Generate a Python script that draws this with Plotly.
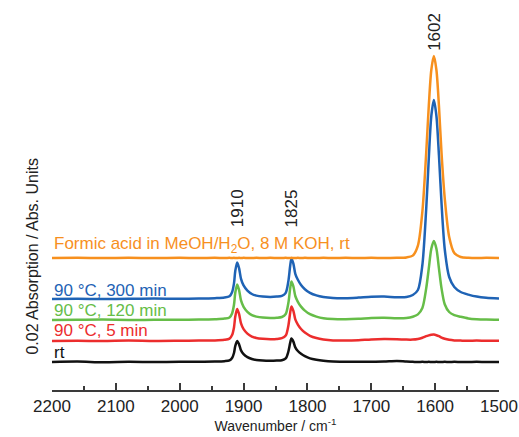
import plotly.graph_objects as go

# Wavenumber grid (cm-1)
wavenumber = [2200, 2160, 2120, 2080, 2040, 2000, 1970, 1945, 1930, 1922,
              1918, 1915, 1913, 1910, 1907, 1904, 1900, 1894, 1887, 1880,
              1870, 1858, 1848, 1840, 1834, 1830, 1827, 1825, 1822, 1819,
              1815, 1810, 1804, 1796, 1786, 1775, 1760, 1740, 1720, 1700,
              1680, 1660, 1645, 1635, 1627, 1620, 1614, 1610, 1606, 1602,
              1598, 1594, 1590, 1585, 1578, 1570, 1560, 1548, 1535, 1520, 1500]

# Absorbance above each trace's own baseline
rt_abs = [0.0000, 0.0002, -0.0001, 0.0001, 0.0000, 0.0001, 0.0001, 0.0002, 0.0004, 0.0008,
          0.0020, 0.0045, 0.0080, 0.0105, 0.0088, 0.0058, 0.0039, 0.0024, 0.0015, 0.0010,
          0.0007, 0.0006, 0.0007, 0.0009, 0.0018, 0.0050, 0.0096, 0.0117, 0.0102, 0.0073,
          0.0055, 0.0041, 0.0029, 0.0018, 0.0011, 0.0006, 0.0002, 0.0001, 0.0001, 0.0001,
          0.0002, 0.0005, 0.0002, 0.0001, 0.0000, 0.0001, 0.0000, 0.0001, 0.0000, 0.0000,
          0.0001, 0.0000, 0.0000, 0.0001, 0.0000, 0.0001, 0.0000, 0.0000, 0.0001, 0.0000, 0.0000]

min5_abs = [0.0000, 0.0001, 0.0000, 0.0002, 0.0000, 0.0001, 0.0002, 0.0003, 0.0006, 0.0012,
            0.0030, 0.0068, 0.0122, 0.0160, 0.0134, 0.0088, 0.0059, 0.0037, 0.0022, 0.0015,
            0.0011, 0.0009, 0.0010, 0.0014, 0.0027, 0.0074, 0.0142, 0.0173, 0.0151, 0.0108,
            0.0082, 0.0060, 0.0042, 0.0026, 0.0015, 0.0008, 0.0003, 0.0002, 0.0004, 0.0008,
            0.0010, 0.0009, 0.0007, 0.0007, 0.0010, 0.0016, 0.0024, 0.0028, 0.0031, 0.0032,
            0.0029, 0.0024, 0.0017, 0.0011, 0.0006, 0.0003, 0.0002, 0.0001, 0.0002, 0.0001, 0.0001]

min120_abs = [0.0000, 0.0001, 0.0002, 0.0000, 0.0001, 0.0001, 0.0002, 0.0004, 0.0007, 0.0013,
              0.0033, 0.0076, 0.0136, 0.0178, 0.0149, 0.0098, 0.0066, 0.0041, 0.0024, 0.0017,
              0.0012, 0.0010, 0.0011, 0.0015, 0.0030, 0.0082, 0.0158, 0.0193, 0.0168, 0.0120,
              0.0091, 0.0067, 0.0047, 0.0029, 0.0017, 0.0009, 0.0005, 0.0004, 0.0006, 0.0010,
              0.0011, 0.0009, 0.0010, 0.0016, 0.0028, 0.0060, 0.0158, 0.0257, 0.0356, 0.0395,
              0.0356, 0.0257, 0.0158, 0.0079, 0.0040, 0.0024, 0.0016, 0.0008, 0.0004, 0.0002, 0.0001]

min300_abs = [0.0000, 0.0001, 0.0000, 0.0001, 0.0002, 0.0001, 0.0002, 0.0004, 0.0007, 0.0014,
              0.0034, 0.0078, 0.0140, 0.0183, 0.0153, 0.0101, 0.0068, 0.0042, 0.0025, 0.0017,
              0.0012, 0.0010, 0.0012, 0.0016, 0.0031, 0.0086, 0.0166, 0.0203, 0.0177, 0.0126,
              0.0096, 0.0070, 0.0049, 0.0031, 0.0018, 0.0010, 0.0005, 0.0004, 0.0007, 0.0011,
              0.0012, 0.0009, 0.0010, 0.0020, 0.0045, 0.0170, 0.0450, 0.0700, 0.0915, 0.0995,
              0.0915, 0.0716, 0.0478, 0.0250, 0.0110, 0.0060, 0.0035, 0.0022, 0.0012, 0.0006, 0.0003]

formic_abs = [0.0000, 0.0001, 0.0000, 0.0001, 0.0000, 0.0001, 0.0000, 0.0001, 0.0000, 0.0001,
              0.0000, 0.0001, 0.0000, 0.0000, 0.0001, 0.0000, 0.0001, 0.0000, 0.0000, 0.0001,
              0.0000, 0.0001, 0.0000, 0.0000, 0.0001, 0.0000, 0.0000, 0.0001, 0.0000, 0.0000,
              0.0001, 0.0000, 0.0001, 0.0000, 0.0000, 0.0001, 0.0000, 0.0001, 0.0000, 0.0001,
              0.0000, 0.0001, 0.0003, 0.0012, 0.0062, 0.0232, 0.0525, 0.0758, 0.0940, 0.1010,
              0.0940, 0.0758, 0.0525, 0.0300, 0.0105, 0.0025, 0.0005, 0.0001, 0.0000, 0.0001, 0.0000]

series_names = ["rt", "90 °C, 5 min", "90 °C, 120 min", "90 °C, 300 min",
                "Formic acid in MeOH/H<sub>2</sub>O, 8 M KOH, rt"]
series_values = [rt_abs, min5_abs, min120_abs, min300_abs, formic_abs]
series_offsets = [0.0, 0.0105, 0.021, 0.0315, 0.052]   # vertical stacking offsets
label_heights = [0.005, 0.016, 0.026, 0.036, 0.0585]    # label positions (Abs.)
colors = ["#111111", "#EC2D2D", "#66BD48", "#1F63B5", "#F7901E"]

peak_positions = [1910, 1825, 1602]
peak_label_heights = [0.077, 0.077, 0.165]

x_range = [2200, 1500]
scale_bar = 0.02          # 0.02 Abs. scale bar
scale_bar_x = 2214        # just left of the plotted range

FONT = "Liberation Sans"
AXIS_COLOR = "#3a3a3a"

fig = go.Figure()
for name, vals, off, col in zip(series_names, series_values, series_offsets, colors):
    fig.add_trace(go.Scatter(
        x=wavenumber, y=[v + off for v in vals], mode="lines", name=name,
        line=dict(color=col, width=2.5, shape="spline", smoothing=0.8),
        showlegend=False, hoverinfo="skip"))

# double-headed scale bar (0.02 Abs.)
fig.add_trace(go.Scatter(
    x=[scale_bar_x, scale_bar_x], y=[0.0012, scale_bar - 0.0012], mode="lines+markers",
    line=dict(color="#111111", width=1.3),
    marker=dict(symbol=["triangle-down", "triangle-up"], size=7, color="#111111"),
    cliponaxis=False, showlegend=False, hoverinfo="skip"))

annotations = []
for name, h, col in zip(series_names, label_heights, colors):
    annotations.append(dict(text=name, xref="paper", x=0.0, xanchor="left",
                            yref="y", y=h, yanchor="middle", showarrow=False,
                            font=dict(family=FONT, size=17, color=col)))
for p, h in zip(peak_positions, peak_label_heights):
    annotations.append(dict(text=str(p), xref="x", x=p, yref="y", y=h,
                            textangle=-90, showarrow=False,
                            font=dict(family=FONT, size=17, color="#222222")))
annotations.append(dict(text="0.02 Absorption / Abs. Units", xref="paper", x=-0.067,
                        yref="paper", y=0.362, textangle=-90, showarrow=False,
                        font=dict(family=FONT, size=16, color="#222222")))

fig.update_layout(
    width=519, height=437,
    margin=dict(l=52, r=20, t=20, b=47, autoexpand=False),
    paper_bgcolor="white", plot_bgcolor="white",
    font=dict(family=FONT, color="#222222"),
    annotations=annotations,
    xaxis=dict(range=x_range, dtick=100,
               ticks="inside", ticklen=7, tickwidth=2, tickcolor=AXIS_COLOR,
               showline=True, linecolor=AXIS_COLOR, linewidth=2,
               showgrid=False, zeroline=False,
               minor=dict(dtick=50, ticks="inside", ticklen=4, tickwidth=2,
                          tickcolor=AXIS_COLOR, showgrid=False),
               tickfont=dict(family=FONT, size=17, color="#222222"),
               title=dict(text="Wavenumber / cm<sup>-1</sup>", standoff=4,
                          font=dict(family=FONT, size=14, color="#222222"))),
    yaxis=dict(range=[-0.014, 0.171], showline=False, showticklabels=False,
               ticks="", showgrid=False, zeroline=False),
)

fig.write_html("out.html", config={"displayModeBar": False},
               post_script="document.body.style.margin='0';document.body.style.overflow='hidden';")
